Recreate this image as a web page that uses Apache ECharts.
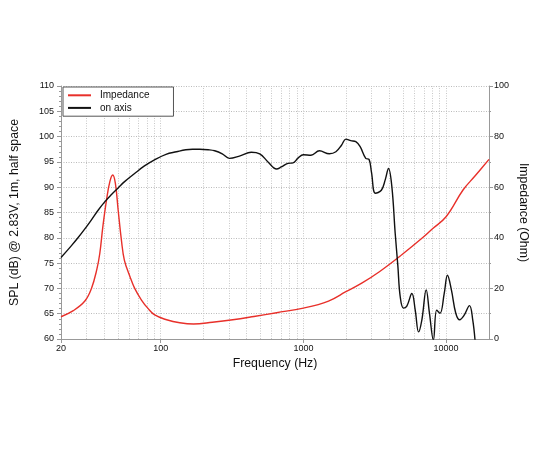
<!DOCTYPE html>
<html><head><meta charset="utf-8">
<script src="https://cdn.jsdelivr.net/npm/echarts@6/dist/echarts.min.js"></script>
<style>html,body{margin:0;padding:0;background:#fff}#c{width:550px;height:450px}</style>
</head><body><div id="c"></div>
<script>
// SPL on axis (dB)
var splFreq = [20,23.6,26.3,29.3,32.6,36.3,40.5,45,50.1,55.8,65.6,76.9,90.4,108.9,129,150,167,188,215,239,270,303,360,431,494,565,649,700,779,845,920,1000,1130,1296,1520,1690,1850,1985,2150,2330,2500,2736,2885,3000,3200,3520,3750,3950,4170,4400,4590,4770,5030,5310,5760,6080,6420,6770,7260,7650,8150,8600,9070,9710,10230,10900,11700,12470,13330,14600,15380,15960];
var splDb   = [76.1,78.4,80,81.7,83.5,85.4,87.1,88.5,89.8,91.1,92.7,94.2,95.4,96.5,97.0,97.4,97.5,97.5,97.4,97.2,96.6,95.7,96.2,96.9,96.6,95.0,93.6,94.0,94.7,94.8,95.8,96.4,96.3,97.2,96.6,97.0,98.3,99.5,99.2,99.0,98.0,95.7,95.5,93,88.8,89.4,91.5,93.7,90.1,80.9,74.6,68.4,66.1,66.5,69.0,65.7,61.4,63.8,69.7,65.1,59.8,65.7,65.1,69.0,72.6,69.7,65.1,63.8,64.6,66.6,63.8,59.8];
// Impedance (Ohm)
var impFreq = [20,24.4,29.4,32.7,35.6,37.4,39.3,41.7,44.0,46.1,48.1,50.3,53.0,55.6,60.9,65.7,73.3,81.1,90.8,110,136,170,230,320,450,649,1000,1500,1985,2600,3410,4870,6770,8000,10000,13150,16000,20000];
var impOhm  = [8.8,11.2,15.0,20,27.3,33.8,44.4,55,62.2,64.8,61.5,51,39.2,31.2,24.6,20,15.4,12.2,9.5,7.6,6.4,5.9,6.6,7.6,8.9,10.4,12.2,15.0,18.7,22.3,26.6,33.2,39.8,43.5,48.3,58.9,64.5,71];
// grid frequencies (minor log lines)
var gridFreq = [30,40,50,60,70,80,90,100,200,300,400,500,600,700,800,900,1000,2000,3000,4000,5000,6000,7000,8000,9000,10000];
var seriesNames = ['Impedance','on axis'];

function pairs(xs, ys){ return xs.map(function(x,i){return [x, ys[i]];}); }

var font = 'Liberation Sans';
var chart = echarts.init(document.getElementById('c'));
chart.setOption({
  animation:false,
  textStyle:{fontFamily:font},
  grid:{left:61,right:61,top:86,bottom:111,containLabel:false},
  legend:{
    orient:'vertical', left:63, top:87, icon:'rect', itemWidth:23, itemHeight:2, itemGap:0,
    padding:[2,24,2,5], borderColor:'#555', borderWidth:1, backgroundColor:'#fff', borderRadius:0,
    textStyle:{fontSize:10,lineHeight:12.6,color:'#111',fontFamily:font,padding:[0,0,0,4]},
    data:seriesNames
  },
  xAxis:{
    type:'log', logBase:10, min:20, max:20000,
    name:'Frequency (Hz)', nameLocation:'middle', nameGap:19,
    nameTextStyle:{fontSize:12.3,color:'#111'},
    axisLine:{lineStyle:{color:'#999'}},
    axisTick:{length:4,lineStyle:{color:'#999'}},
    axisLabel:{fontSize:9,color:'#111',margin:5,showMaxLabel:false,formatter:function(v){return String(Math.round(v));}},
    splitLine:{show:false}
  },
  yAxis:[{
    type:'value', min:60, max:110, interval:5, position:'left',
    name:'SPL (dB) @ 2.83V, 1m, half space', nameLocation:'middle', nameGap:40, nameMoveOverlap:false,
    nameTextStyle:{fontSize:12.3,color:'#111'},
    axisLine:{show:true,lineStyle:{color:'#999'}},
    axisTick:{show:true,length:4,lineStyle:{color:'#999'}},
    minorTick:{show:true,splitNumber:5,length:2,lineStyle:{color:'#999'}},
    axisLabel:{fontSize:9,color:'#111',margin:7},
    splitLine:{show:true,lineStyle:{color:'#bbb',type:[1,1.5],width:1}}
  },{
    type:'value', min:0, max:100, interval:20, position:'right',
    name:'Impedance (Ohm)', nameLocation:'middle', nameGap:28, nameRotate:-90, nameMoveOverlap:false,
    nameTextStyle:{fontSize:12.3,color:'#111'},
    axisLine:{show:true,lineStyle:{color:'#999'}},
    axisTick:{show:true,length:4,lineStyle:{color:'#999'}},
    minorTick:{show:true,splitNumber:2,length:2,lineStyle:{color:'#999'}},
    axisLabel:{fontSize:9,color:'#111',margin:5},
    splitLine:{show:false}
  }],
  series:[{
    name:seriesNames[0], type:'line', yAxisIndex:1, symbol:'none', showSymbol:false, smooth:0.4,
    lineStyle:{color:'#e8302a',width:1.4}, itemStyle:{color:'#e8302a'},
    data:pairs(impFreq, impOhm),
    markLine:{
      silent:true, symbol:'none', label:{show:false},
      lineStyle:{color:'#c8c8c8',type:[1,1.5],width:1},
      data:gridFreq.map(function(f){return {xAxis:f};}),
      z:0
    },
    z:2
  },{
    name:seriesNames[1], type:'line', yAxisIndex:0, symbol:'none', showSymbol:false, smooth:0.4,
    lineStyle:{color:'#111',width:1.4}, itemStyle:{color:'#111'},
    data:pairs(splFreq, splDb), z:3
  }]
});
</script></body></html>
